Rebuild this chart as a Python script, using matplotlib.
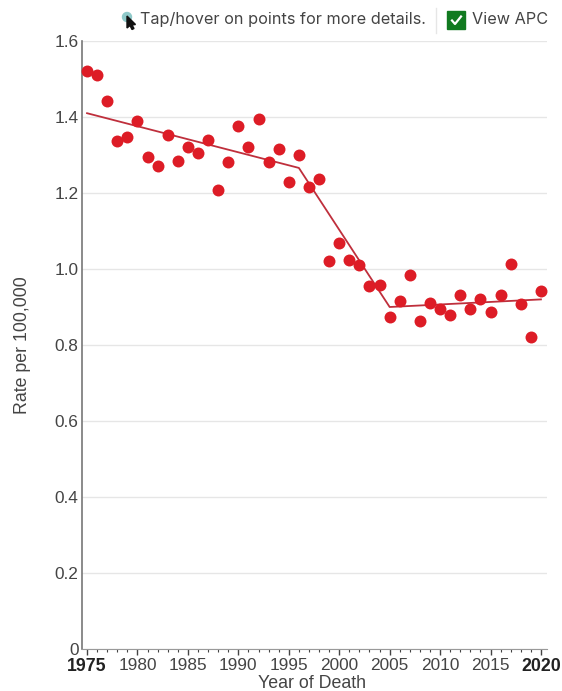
import numpy as np
import matplotlib
matplotlib.use('Agg')
import matplotlib.pyplot as plt
from matplotlib.patches import Polygon, Rectangle, Circle

# values
years = list(range(1975, 2021))
rates = [1.520, 1.510, 1.441, 1.338, 1.348, 1.390, 1.296, 1.271, 1.353, 1.284,
         1.320, 1.304, 1.339, 1.209, 1.282, 1.377, 1.320, 1.394, 1.281, 1.317,
         1.229, 1.300, 1.217, 1.238, 1.022, 1.069, 1.024, 1.011, 0.956, 0.958,
         0.874, 0.916, 0.983, 0.863, 0.910, 0.895, 0.879, 0.931, 0.896, 0.922,
         0.886, 0.931, 1.013, 0.908, 0.820, 0.942]
trend_years = [1975, 1996, 2005, 2020]
trend_rates = [1.410, 1.266, 0.900, 0.920]
x_ticks = [1975, 1980, 1985, 1990, 1995, 2000, 2005, 2010, 2015, 2020]
y_ticks = [0, 0.2, 0.4, 0.6, 0.8, 1.0, 1.2, 1.4, 1.6]
y_labels = ['0', '0.2', '0.4', '0.6', '0.8', '1.0', '1.2', '1.4', '1.6']

W, H = 562, 691
plt.rcParams['font.family'] = ['Liberation Sans', 'DejaVu Sans']

fig = plt.figure(figsize=(W / 100, H / 100), dpi=100)

# plot area, in pixels of the reference
left, right, top, bottom = 81.5, 547, 41, 649
ax = fig.add_axes([left / W, 1 - bottom / H, (right - left) / W, (bottom - top) / H])
ax.set_xlim(1974.45, 2020.6)
ax.set_ylim(0, 1.6)

ax.grid(axis='y', color='#e6e6e6', lw=1)
ax.set_axisbelow(True)
ax.plot(trend_years, trend_rates, color='#bf2f3c', lw=1.3, zorder=2, clip_on=False)
ax.scatter(years, rates, s=74, color='#dd1c26', linewidths=0, zorder=3, clip_on=False)

for s in ['top', 'right']:
    ax.spines[s].set_visible(False)
ax.spines['left'].set_color('#777777')
ax.spines['left'].set_linewidth(1.2)
ax.spines['bottom'].set_color('#999999')

ax.set_xticks(x_ticks)
ax.set_xticks(years, minor=True)
ax.set_yticks(y_ticks)
ax.set_yticklabels(y_labels)
ax.tick_params(axis='x', which='major', length=4.5, width=1, color='#444444',
               labelsize=12.4, labelcolor='#444444', pad=2)
ax.tick_params(axis='x', which='minor', length=2.5, width=0.8, color='#444444')
ax.tick_params(axis='y', length=0, labelsize=12.4, labelcolor='#444444', pad=2)
for lab in ax.get_xticklabels():
    if lab.get_text() in ('1975', '2020'):
        lab.set_fontweight('bold')
        lab.set_fontsize(12.8)
        lab.set_color('#222222')

fig.text(312 / W, 1 - 683 / H, 'Year of Death', ha='center', va='center',
         fontsize=12.8, color='#444444')
fig.text(23 / W, 1 - 345 / H, 'Rate per 100,000', ha='center', va='center',
         rotation=90, fontsize=12.8, color='#444444')

# toolbar above the chart, drawn in pixel coordinates
ui = fig.add_axes([0, 0, 1, 1])
ui.set_xlim(0, W)
ui.set_ylim(H, 0)
ui.axis('off')
ui.patch.set_alpha(0)
ui.add_patch(Circle((127, 17), 4.5, color='#8fc9c9'))
ui.add_patch(Polygon([(127, 16), (127, 28), (130, 25.5), (132, 29.5), (134, 28.5),
                      (132, 25), (135.5, 24.5)], closed=True, color='#111111'))
ui.text(140, 19.5, 'Tap/hover on points for more details.', family=['Inter', 'DejaVu Sans'],
        fontsize=11.7, color='#444444', va='center')
ui.plot([435.5, 435.5], [8, 33], color='#e6e6e6', lw=1)
ui.add_patch(Rectangle((447, 11), 18, 18, color='#117a20'))
ui.plot([452, 455, 461], [20.5, 24, 16.5], color='white', lw=1.6)
ui.text(472, 19.5, 'View APC', family=['Inter', 'DejaVu Sans'],
        fontsize=11.7, color='#444444', va='center')

fig.savefig('out.png', dpi=100)
